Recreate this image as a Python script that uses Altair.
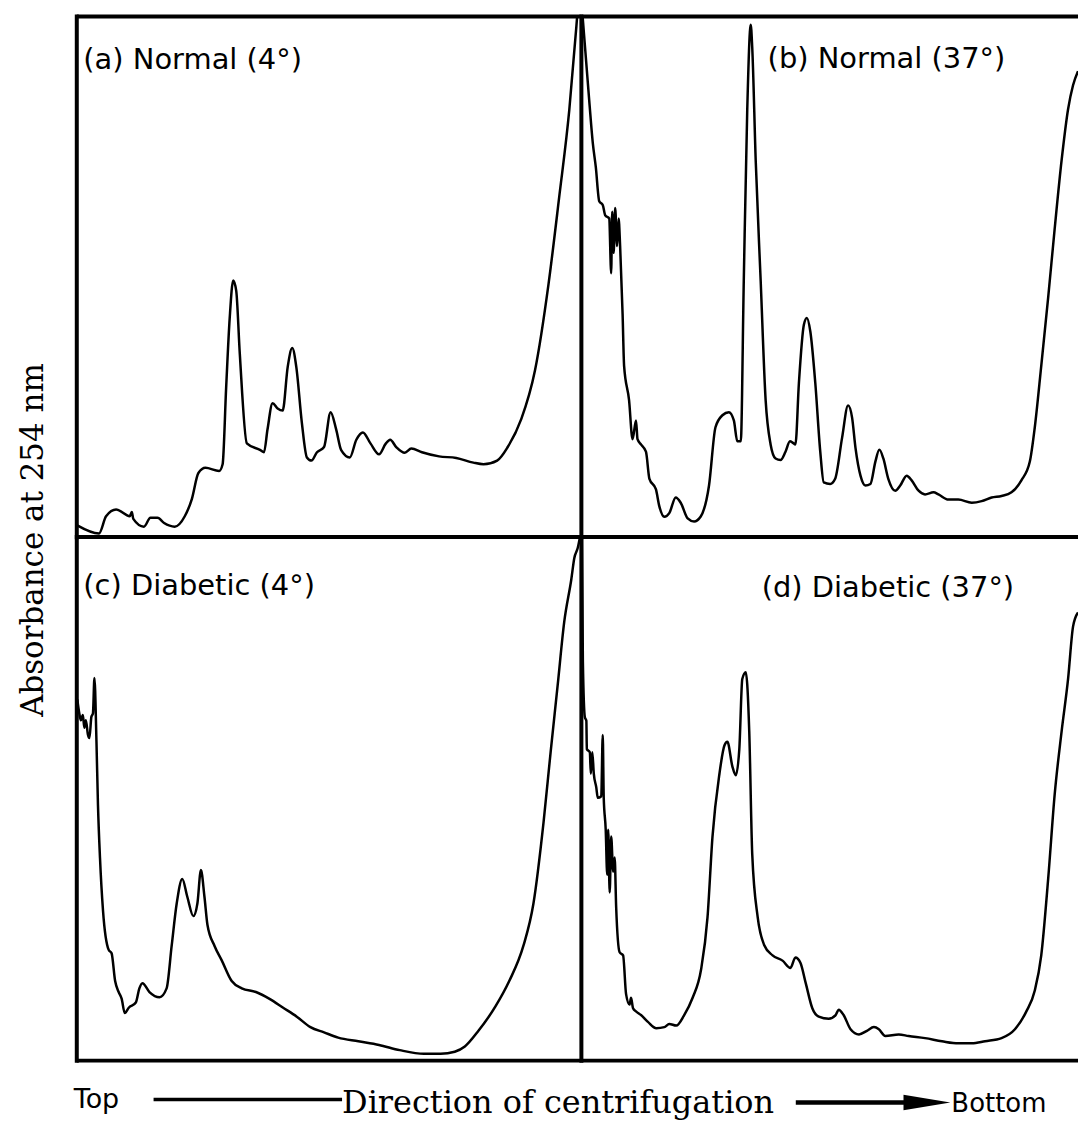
import altair as alt
import pandas as pd

# ---------------- data (position along gradient in %, absorbance in arbitrary units) ----------------
a_pos = [0, 4.4, 5.8, 7.8, 10.5, 10.9, 11.2, 13.3, 14.6, 16.0, 17.3, 19.4, 21.4, 22.8, 24.1, 25.5, 28.2, 28.9, 29.6, 30.3,
         31.0, 31.6, 32.3, 33.7, 36.4, 37.1, 37.8, 38.8, 39.8, 40.8, 41.8, 42.7, 43.5, 44.6, 45.6, 46.5, 47.6, 49.0, 50.3, 51.4,
         52.4, 54.1, 55.4, 56.7, 58.2, 59.9, 61.2, 62.1, 63.3, 65.0, 66.3, 68.4, 71.8, 75.2, 78.6, 80.6, 83.3, 85.4, 88.1, 90.8,
         93.5, 95.6, 97.6, 99.0, 99.4]
a_abs = [2.3, 0.7, 4.0, 5.3, 4.0, 4.8, 3.5, 2.0, 3.7, 3.7, 2.7, 2.0, 4.0, 7.3, 12.3, 13.3, 12.7, 14.0, 28.7, 42.0,
         49.3, 47.3, 35.3, 18.0, 16.7, 16.3, 20.7, 25.7, 24.7, 24.3, 32.7, 36.3, 32.7, 22.0, 15.3, 14.7, 16.3, 17.3, 24.0, 20.7,
         16.7, 15.3, 18.7, 20.1, 18.0, 15.9, 17.9, 18.7, 17.3, 16.2, 17.0, 16.3, 15.5, 15.2, 14.3, 14.0, 14.7, 17.3, 22.7, 32.0,
         48.7, 65.3, 82.0, 98.0, 103.0]

b_pos = [0, 1.6, 2.3, 2.9, 3.6, 4.3, 4.8, 5.6, 6.0, 6.2, 6.5, 6.8, 7.2, 7.5, 7.8, 8.3, 8.6, 9.6, 10.3, 11.0,
         11.3, 12.0, 13.0, 13.7, 15.0, 15.7, 16.7, 17.7, 19.0, 20.0, 21.4, 22.7, 24.0, 25.7, 27.0, 28.4, 29.7, 30.7, 31.4, 32.1,
         32.7, 33.4, 34.1, 34.4, 35.1, 36.1, 37.1, 38.1, 39.1, 40.1, 41.1, 42.0, 42.6, 43.1, 43.8, 44.8, 45.4, 46.1, 47.1, 48.1,
         48.8, 50.1, 51.1, 52.5, 53.7, 54.5, 55.2, 56.2, 57.2, 58.2, 59.2, 60.0, 60.8, 61.8, 63.2, 64.2, 65.5, 66.5, 67.9, 69.2,
         70.9, 71.9, 73.9, 75.9, 78.6, 80.6, 82.6, 84.6, 86.6, 88.6, 90.3, 91.3, 92.6, 94.0, 95.3, 96.7, 98.0, 99.0, 100]
b_abs = [103, 83.6, 75.7, 71.1, 64.5, 63.8, 61.8, 61.2, 50.7, 62.5, 54.6, 63.2, 55.9, 61.2, 55.9, 42.8, 32.9, 26.3, 18.8, 22.4,
         18.8, 17.8, 16.4, 11.2, 9.2, 5.9, 3.9, 4.6, 7.6, 6.6, 3.6, 3.0, 3.9, 9.9, 21.1, 23.4, 24.0, 22.4, 18.4, 18.4,
         49.3, 82.2, 98.4, 94.1, 72.4, 49.3, 26.3, 17.8, 15.1, 14.8, 16.4, 18.4, 18.1, 17.8, 29.6, 40.8, 42.1, 39.5, 29.6, 16.4,
         10.5, 10.2, 11.2, 19.1, 25.3, 23.0, 17.1, 11.8, 9.9, 10.2, 14.5, 16.8, 15.1, 11.2, 8.9, 9.9, 11.8, 10.9, 8.9, 8.2,
         8.6, 8.2, 7.2, 7.2, 6.6, 6.9, 7.6, 7.9, 8.6, 10.9, 14.5, 21.1, 32.9, 46.1, 59.2, 72.4, 82.2, 86.8, 89.5]

c_pos = [0.1, 0.5, 0.8, 1.2, 1.5, 1.8, 2.2, 2.5, 2.9, 3.2, 3.5, 3.9, 4.2, 4.6, 5.2, 6.3, 6.9, 7.6, 8.3, 8.9,
         9.5, 10.3, 11.7, 12.4, 13.0, 14.4, 16.4, 17.8, 18.8, 19.8, 20.9, 21.9, 23.1, 23.9, 24.6, 25.3, 25.9, 27.3, 28.7, 30.7,
         32.7, 35.5, 38.2, 40.9, 43.6, 46.3, 49.0, 51.8, 55.8, 59.9, 64.0, 68.8, 72.1, 74.9, 76.9, 79.6, 83.0, 85.7, 88.5, 90.5,
         92.5, 93.9, 95.3, 96.6, 98.0, 98.6, 99.3, 99.9]
c_abs = [69.0, 66.3, 65.0, 66.0, 63.6, 65.0, 62.3, 61.6, 65.7, 66.3, 73.1, 60.9, 48.8, 38.7, 28.6, 21.2, 20.5, 15.2, 13.1, 11.8,
         9.1, 10.1, 11.1, 13.8, 14.8, 13.1, 12.1, 13.8, 21.9, 30.0, 34.7, 31.3, 27.6, 30.0, 36.4, 31.3, 25.9, 21.9, 19.2, 15.2,
         13.8, 13.1, 11.8, 10.1, 8.4, 6.4, 5.4, 4.4, 3.7, 3.0, 2.0, 1.3, 1.3, 1.7, 2.7, 5.7, 10.4, 15.2, 21.9, 30.0,
         45.5, 58.9, 71.7, 83.8, 91.9, 96.0, 98.0, 101.0]

d_pos = [0.1, 0.3, 0.7, 1.0, 1.1, 1.7, 1.9, 2.2, 2.5, 3.0, 3.3, 4.0, 4.3, 4.5, 4.9, 5.2, 5.4, 5.7, 6.0, 6.4,
         6.7, 7.0, 7.7, 8.4, 9.0, 9.7, 10.0, 10.4, 11.0, 12.0, 13.4, 15.1, 16.7, 17.7, 19.1, 20.7, 22.4, 24.1, 25.4, 26.4,
         27.8, 28.8, 29.4, 30.4, 31.1, 31.8, 32.4, 33.1, 33.8, 34.4, 35.5, 36.8, 38.5, 40.5, 42.1, 43.1, 44.1, 45.2, 46.5, 47.8,
         49.8, 51.2, 51.8, 52.8, 54.2, 55.9, 57.5, 58.9, 59.9, 61.2, 63.9, 65.9, 69.2, 72.6, 75.9, 78.6, 81.3, 84.6, 87.3, 89.6,
         91.3, 92.6, 94.0, 95.3, 96.7, 98.0, 99.0, 100]
d_abs = [101.0, 76.3, 65.6, 64.9, 59.5, 58.9, 54.8, 58.9, 54.8, 52.2, 50.2, 50.5, 62.2, 50.2, 44.1, 35.5, 44.1, 32.1, 42.8, 36.1,
         38.8, 29.4, 20.7, 20.1, 12.7, 10.7, 12.0, 10.0, 9.4, 8.7, 7.4, 6.2, 6.4, 7.0, 6.7, 8.7, 12.0, 17.4, 27.4, 42.8,
         54.8, 60.2, 60.9, 56.2, 54.5, 59.5, 72.9, 74.2, 62.9, 39.5, 27.4, 22.1, 20.1, 19.1, 17.7, 19.7, 18.7, 14.7, 10.0, 8.4,
         8.0, 8.7, 9.7, 8.7, 6.0, 5.0, 5.7, 6.4, 6.0, 4.7, 5.0, 4.7, 4.3, 3.7, 3.3, 3.3, 3.7, 4.3, 6.0, 9.4,
         13.4, 20.1, 34.8, 50.8, 62.9, 72.9, 82.9, 85.6]

panel_labels = ["(a) Normal (4°)", "(b) Normal (37°)", "(c) Diabetic (4°)", "(d) Diabetic (37°)"]
label_x = [1.3, 37.5, 1.3, 36.3]
label_y = [89.9, 90.1, 88.9, 88.6]

y_title = "Absorbance at 254 nm"
bottom_texts = ["Top", "Direction of centrifugation", "Bottom"]

# frame segments: left, top, bottom (data units of each panel)
frame_df = pd.DataFrame({"x0": [0, 0, 0], "x1": [0, 100, 100],
                         "y0": [-0.4, 100, 0], "y1": [100.4, 100, 0]})

SANS = "DejaVu Sans"
SERIF = "DejaVu Serif"
one = pd.DataFrame({"k": [0]})


def panel(pos, ab, label, lx, ly, w, h):
    df = pd.DataFrame({"pos": pos, "absorbance": ab})
    xs = alt.Scale(domain=[0, 100], nice=False, zero=False)
    ys = alt.Scale(domain=[0, 100], nice=False, zero=False)
    trace = alt.Chart(df).mark_line(
        color="black", strokeWidth=2.5, clip=True, interpolate="monotone", strokeJoin="round"
    ).encode(
        x=alt.X("pos:Q", scale=xs, axis=None),
        y=alt.Y("absorbance:Q", scale=ys, axis=None),
    )
    frame = alt.Chart(frame_df).mark_rule(color="black", strokeWidth=4).encode(
        x=alt.X("x0:Q", scale=xs, axis=None), x2="x1",
        y=alt.Y("y0:Q", scale=ys, axis=None), y2="y1",
    )
    lab = alt.Chart(pd.DataFrame({"t": [label], "lx": [lx], "ly": [ly]})).mark_text(
        align="left", baseline="alphabetic", font=SANS, fontSize=29, color="black"
    ).encode(
        x=alt.X("lx:Q", scale=xs, axis=None),
        y=alt.Y("ly:Q", scale=ys, axis=None),
        text="t:N",
    )
    return alt.layer(frame, trace, lab).properties(width=w, height=h)


def blank(w, h):
    return alt.Chart(one).mark_point(opacity=0, size=1).encode(
        x=alt.value(0), y=alt.value(0)).properties(width=w, height=h)


pa = panel(a_pos, a_abs, panel_labels[0], label_x[0], label_y[0], 506, 522)
pb = panel(b_pos, b_abs, panel_labels[1], label_x[1], label_y[1], 498, 522)
pc = panel(c_pos, c_abs, panel_labels[2], label_x[2], label_y[2], 506, 525)
pd_ = panel(d_pos, d_abs, panel_labels[3], label_x[3], label_y[3], 498, 525)

# y-axis title: drawn from the first column, centred on the row boundary
ylab = alt.Chart(pd.DataFrame({"t": [y_title]})).mark_text(
    angle=270, align="center", baseline="alphabetic", font=SERIF, fontSize=31, color="black"
).encode(x=alt.value(42), y=alt.value(525), text="t:N").properties(width=76, height=522)

# bottom annotation (positions relative to the cell under panel c)
t_top = alt.Chart(pd.DataFrame({"t": [bottom_texts[0]]})).mark_text(
    align="left", baseline="alphabetic", font=SANS, fontSize=27, color="black"
).encode(x=alt.value(-3), y=alt.value(48), text="t:N")
t_dir = alt.Chart(pd.DataFrame({"t": [bottom_texts[1]]})).mark_text(
    align="left", baseline="alphabetic", font=SERIF, fontSize=32, color="black"
).encode(x=alt.value(266), y=alt.value(53), text="t:N")
t_bot = alt.Chart(pd.DataFrame({"t": [bottom_texts[2]]})).mark_text(
    align="left", baseline="alphabetic", font=SANS, fontSize=26, color="black"
).encode(x=alt.value(877), y=alt.value(52), text="t:N")
line_left = alt.Chart(one).mark_rule(color="black", strokeWidth=3.5).encode(
    x=alt.value(77), x2=alt.value(266), y=alt.value(39))
line_right = alt.Chart(one).mark_rule(color="black", strokeWidth=4.5).encode(
    x=alt.value(721), x2=alt.value(836), y=alt.value(42))
head = alt.Chart(one).mark_point(
    shape="M -1 -0.33 L 1 0 L -1 0.33 Z", filled=True, size=2209, color="black", opacity=1, strokeWidth=0
).encode(x=alt.value(852.5), y=alt.value(42))

bottom = alt.layer(line_left, line_right, head, t_top, t_dir, t_bot).properties(width=506, height=68)

chart = alt.concat(
    ylab, pa, pb,
    blank(76, 525), pc, pd_,
    blank(76, 68), bottom, blank(498, 68),
    columns=3, spacing=0, bounds="flush",
).properties(
    padding={"left": 0, "top": 10, "right": 0, "bottom": 0},
    background="white",
).configure_view(stroke=None)

chart.save("out.html", embed_options={"renderer": "svg", "actions": False})
